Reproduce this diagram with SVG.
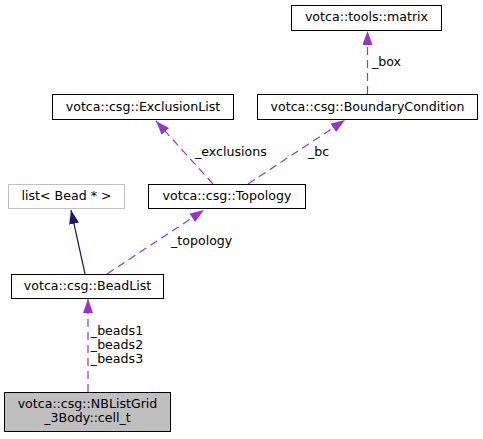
<svg xmlns="http://www.w3.org/2000/svg" width="483" height="439" viewBox="0 0 483 439">
<defs>
<marker id="ap" markerWidth="14" markerHeight="10" refX="14" refY="5" orient="auto" markerUnits="userSpaceOnUse"><path d="M0,0 L14,5 L0,10 Z" fill="#9a32cd"/></marker>
<marker id="an" markerWidth="14" markerHeight="10" refX="14" refY="5" orient="auto" markerUnits="userSpaceOnUse"><path d="M0,0 L14,5 L0,10 Z" fill="#191970"/></marker>
</defs>
<style>
text{font-family:"DejaVu Sans",sans-serif;font-size:12.6px;fill:#000}
.n{fill:#fff;stroke:#000;stroke-width:1}
.g{fill:#fff;stroke:#bfbfbf;stroke-width:1}
.c{fill:#bfbfbf;stroke:#000;stroke-width:1}
.m{text-anchor:middle}
.d{fill:none;stroke:#9a32cd;stroke-width:1.2;stroke-dasharray:8,5;marker-end:url(#ap)}
.s{fill:none;stroke:#191970;stroke-width:1.2;marker-end:url(#an)}
</style>
<rect width="483" height="439" fill="#fff"/>
<g id="edges">
<line class="d" x1="367.5" y1="94" x2="367.5" y2="31"/>
<text x="372" y="66">_box</text>
<line class="d" x1="213" y1="184" x2="156" y2="121"/>
<text x="195" y="156">_exclusions</text>
<line class="d" x1="248" y1="184" x2="345" y2="120"/>
<text x="308" y="156">_bc</text>
<line class="s" x1="85" y1="274" x2="71" y2="210"/>
<line class="d" x1="107" y1="274" x2="204" y2="210"/>
<text x="171" y="245">_topology</text>
<line class="d" x1="88" y1="392" x2="88" y2="299"/>
<text class="m" x="117" y="335">_beads1</text>
<text class="m" x="117" y="349">_beads2</text>
<text class="m" x="117" y="363">_beads3</text>
</g>
<g id="matrix"><rect class="n" x="291.5" y="5.5" width="150" height="25"/><text class="m" x="366.5" y="21">votca::tools::matrix</text></g>
<g id="exclusionlist"><rect class="n" x="52.5" y="94.5" width="181" height="25"/><text class="m" x="143" y="111">votca::csg::ExclusionList</text></g>
<g id="boundarycondition"><rect class="n" x="257.5" y="94.5" width="220" height="25"/><text class="m" x="367.5" y="111">votca::csg::BoundaryCondition</text></g>
<g id="list"><rect class="g" x="8.5" y="184.5" width="116" height="24"/><text class="m" x="66.5" y="200">list&lt; Bead * &gt;</text></g>
<g id="topology"><rect class="n" x="148.5" y="184.5" width="157" height="24"/><text class="m" x="227" y="200">votca::csg::Topology</text></g>
<g id="beadlist"><rect class="n" x="11.5" y="274.5" width="152" height="24"/><text class="m" x="87.5" y="290">votca::csg::BeadList</text></g>
<g id="cell_t"><rect class="c" x="4.5" y="392.5" width="166" height="39"/><text class="m" x="87.5" y="408">votca::csg::NBListGrid</text><text class="m" x="87.5" y="422">_3Body::cell_t</text></g>
</svg>
